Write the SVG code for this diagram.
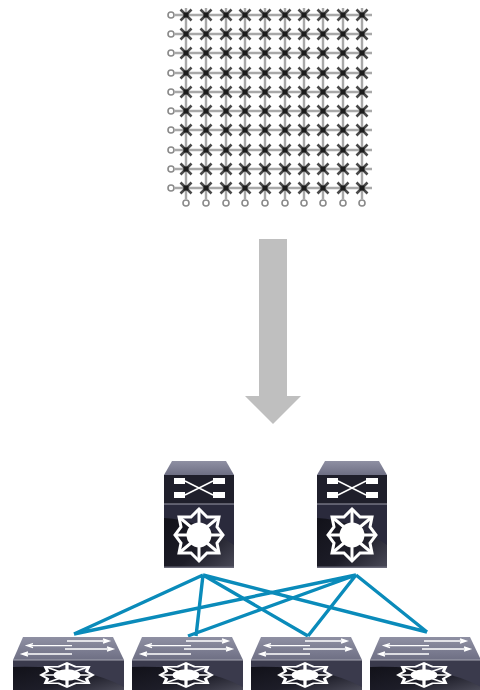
<svg xmlns="http://www.w3.org/2000/svg" xmlns:xlink="http://www.w3.org/1999/xlink" width="480" height="690" viewBox="0 0 480 690">
<style>
.gl{stroke:#a8a8a8;stroke-width:2.4;fill:none}
.st{stroke:#4a4a4a;stroke-width:2.6;fill:none}
.ci{stroke:#8a8a8a;stroke-width:1.6;fill:#fff}
.lnk{stroke:#0a8bba;stroke-width:3.4;fill:none}
.w{fill:#fff;stroke:none}
.wl{stroke:#fff;fill:none;stroke-width:1.4}
.soft{filter:url(#soft)}
</style>
<defs>
<filter id="soft" x="-5%" y="-5%" width="110%" height="110%"><feGaussianBlur stdDeviation="0.55"/></filter>
<linearGradient id="top" x1="0" y1="0" x2="0" y2="1"><stop offset="0" stop-color="#8f90a3"/><stop offset="1" stop-color="#6e6f84"/></linearGradient>
<linearGradient id="body" x1="0" y1="0" x2="1" y2="1"><stop offset="0" stop-color="#0f0f16"/><stop offset=".6" stop-color="#1d1d28"/><stop offset="1" stop-color="#4a4a58"/></linearGradient>
<g id="x"><path class="st" d="M-5.5,-5.5L5.5,5.5M-5.5,5.5L5.5,-5.5"/><rect x="-2.5" y="-2.5" width="5" height="5" fill="#1e1e1e"/></g>
<g id="star" fill="none" stroke="#fff" stroke-width="3" stroke-linejoin="miter">
<circle r="12.5" fill="#fff" stroke="none"/>
<path d="M0,-26L8,-18L20,-18L18,-8L24,0L18,8L20,18L8,18L0,26L-8,18L-20,18L-18,8L-24,0L-18,-8L-20,-18L-8,-18Z"/>
<path d="M0,-26V-10M0,26V10M-24,0H-10M24,0H10M-20,-18L-8,-8M20,-18L8,-8M-20,18L-8,8M20,18L8,8"/>
</g>
<g id="spine">
<path d="M8,0H62L70,14H0Z" fill="url(#top)"/>
<rect x="0" y="14" width="70" height="29" fill="#1f1f2b"/>
<rect x="0" y="43" width="70" height="64" fill="url(#body)"/>
<path d="M0,43H70V84Q36,59 0,57Z" fill="#2a2a3c"/>
<rect x="0" y="42.5" width="70" height="1" fill="#9a9aa8"/>
<rect x="0" y="105.5" width="70" height="1.5" fill="#6b6b7a"/>
<rect class="w" x="10" y="17" width="11" height="6"/><rect class="w" x="49" y="17" width="12" height="6"/>
<rect class="w" x="10" y="31" width="11" height="6"/><rect class="w" x="49" y="31" width="12" height="6"/>
<path class="wl" d="M21,20L49,34M21,34L49,20" stroke-width="1.2"/>
<use xlink:href="#star" href="#star" x="35" y="74"/>
</g>
<g id="leaf">
<path d="M10,0H100L111,23H0Z" fill="url(#top)"/>
<rect x="0" y="23" width="111" height="30" fill="url(#body)"/>
<path d="M0,23H111V50Q70,28 0,30Z" fill="#3a3a4c"/>
<rect x="0" y="22.5" width="111" height="1" fill="#a5a5b2"/>
<path class="wl" d="M54,4H95M90,2L96,4L90,6M15,8.6H59M20,6.6L14,8.6L20,10.6M52,12H99M94,10L100,12L94,14M10,17H59M15,15L9,17L15,19" stroke-width="1.2"/>
<g transform="translate(54,38) scale(1.08,.46)"><use xlink:href="#star" href="#star"/></g>
</g>
</defs>
<rect width="480" height="690" fill="#fff"/>
<g id="grid" class="soft">
<g id="grid-lines">
<path class="gl" d="M175,15H372M175,34H372M175,53H372M175,73H372M175,92H372M175,111H372M175,130H372M175,150H372M175,169H372M175,188H372"/>
<path class="gl" d="M186,8V199M206,8V199M226,8V199M245,8V199M265,8V199M285,8V199M304,8V199M323,8V199M343,8V199M362,8V199"/>
</g>
<g id="grid-circles">
<circle class="ci" cx="171" cy="15" r="3"/><circle class="ci" cx="171" cy="34" r="3"/><circle class="ci" cx="171" cy="53" r="3"/><circle class="ci" cx="171" cy="73" r="3"/><circle class="ci" cx="171" cy="92" r="3"/><circle class="ci" cx="171" cy="111" r="3"/><circle class="ci" cx="171" cy="130" r="3"/><circle class="ci" cx="171" cy="150" r="3"/><circle class="ci" cx="171" cy="169" r="3"/><circle class="ci" cx="171" cy="188" r="3"/>
<circle class="ci" cx="186" cy="203" r="3"/><circle class="ci" cx="206" cy="203" r="3"/><circle class="ci" cx="226" cy="203" r="3"/><circle class="ci" cx="245" cy="203" r="3"/><circle class="ci" cx="265" cy="203" r="3"/><circle class="ci" cx="285" cy="203" r="3"/><circle class="ci" cx="304" cy="203" r="3"/><circle class="ci" cx="323" cy="203" r="3"/><circle class="ci" cx="343" cy="203" r="3"/><circle class="ci" cx="362" cy="203" r="3"/>
</g>
<g id="grid-row"><g id="r1"><use href="#x" x="186" y="15"/><use href="#x" x="206" y="15"/><use href="#x" x="226" y="15"/><use href="#x" x="245" y="15"/><use href="#x" x="265" y="15"/><use href="#x" x="285" y="15"/><use href="#x" x="304" y="15"/><use href="#x" x="323" y="15"/><use href="#x" x="343" y="15"/><use href="#x" x="362" y="15"/></g>
<use href="#r1" y="19"/><use href="#r1" y="38"/><use href="#r1" y="58"/><use href="#r1" y="77"/><use href="#r1" y="96"/><use href="#r1" y="115"/><use href="#r1" y="135"/><use href="#r1" y="154"/><use href="#r1" y="173"/></g>
</g>
<path id="arrow" d="M259,239H287V396H301L273,424L245,396H259Z" fill="#bfbfbf"/>
<g id="connectors">
<path class="lnk" d="M203,575L74,634M203,575L196,636M203,575L308,636M203,575L427,632M356,575L74,634M356,575L188,636M356,575L308,636M356,575L427,632"/>
</g>
<g id="spine1"><use href="#spine" x="164" y="461"/></g>
<g id="spine2"><use href="#spine" x="317" y="461"/></g>
<g id="leaf1"><use href="#leaf" x="13" y="637"/></g>
<g id="leaf2"><use href="#leaf" x="132" y="637"/></g>
<g id="leaf3"><use href="#leaf" x="251" y="637"/></g>
<g id="leaf4"><use href="#leaf" x="370" y="637"/></g>
</svg>
